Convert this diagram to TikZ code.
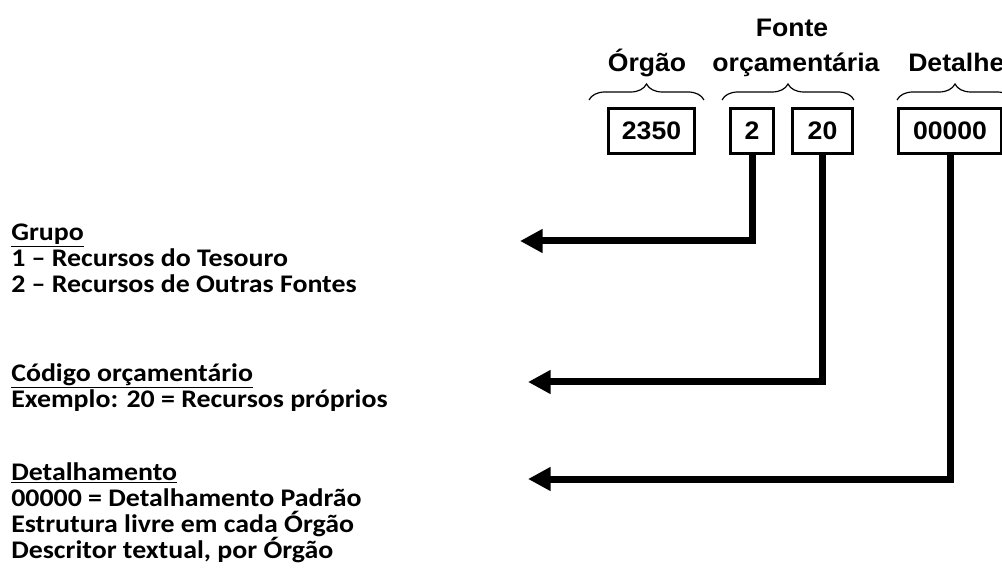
\documentclass[tikz,border=0pt]{standalone}
\usepackage{fontspec}
\setmainfont{Carlito}[FakeStretch=1.1]
\newfontfamily\arialfont[FakeStretch=1.05]{Liberation Sans}
\usetikzlibrary{arrows.meta,decorations.pathreplacing}

\tikzset{
    campo/.style={draw, line width=2.25pt, minimum height=33.75pt, inner sep=0pt,
        font=\arialfont\bfseries\fontsize{19}{21}\selectfont},
    titulo/.style={anchor=base, inner sep=0pt, font=\arialfont\bfseries\fontsize{19}{21}\selectfont},
    chave/.style={decorate, decoration={brace, amplitude=12pt}, line width=0.9pt},
    seta/.style={line width=5.25pt, -{Triangle[length=17pt,width=17pt]}},
    legenda/.style={anchor=base west, inner sep=0pt, align=left,
        font=\bfseries\fontsize{19}{19.5}\selectfont}
}

\begin{document}
\begin{tikzpicture}[x=0.75pt,y=-0.75pt]
    \useasboundingbox (0,0) rectangle (1002,580);

    %campos
    \node[campo, minimum width=64.5pt] (orgao) at (651.5,131) {2350};
    \node[campo, minimum width=32.25pt] (grupo) at (752,131) {2};
    \node[campo, minimum width=45pt] (codigo) at (822.5,131) {20};
    \node[campo, minimum width=77pt] (detal) at (950,131) {00000};

    %titulos e chaves
    \node[titulo] (tOrgao) at (647,72) {Órgão};
    \node[titulo] (tFonte1) at (792,37) {Fonte};
    \node[titulo] (tFonte2) at (796,72) {orçamentária};
    \node[titulo, anchor=base west] (tDetal) at (908,72) {Detalhe};
    \draw[chave] (589,100) -- (704,100);
    \draw[chave] (722,100) -- (854,100);
    \draw[chave] (897,100) -- (1013,100);

    %legendas (ancoradas na ultima linha)
    \node[legenda] (lGrupo) at (11,292.5) {\underline{Grupo}\\
        1 – Recursos do Tesouro\\
        2 – Recursos de Outras Fontes};
    \node[legenda] (lCodigo) at (11,407) {\underline{Código orçamentário}\\
        Exemplo: 20 = Recursos próprios};
    \node[legenda] (lDetal) at (11,558) {\underline{Detalhamento}\\
        00000 = Detalhamento Padrão\\
        Estrutura livre em cada Órgão\\
        Descritor textual, por Órgão};

    %setas
    \coordinate (pGrupo) at (520,241);
    \coordinate (pCodigo) at (528,382);
    \coordinate (pDetal) at (528,479);
    \draw[seta] (grupo.south) |- (pGrupo);
    \draw[seta] (codigo.south) |- (pCodigo);
    \draw[seta] (detal.south) |- (pDetal);

\end{tikzpicture}
\end{document}
